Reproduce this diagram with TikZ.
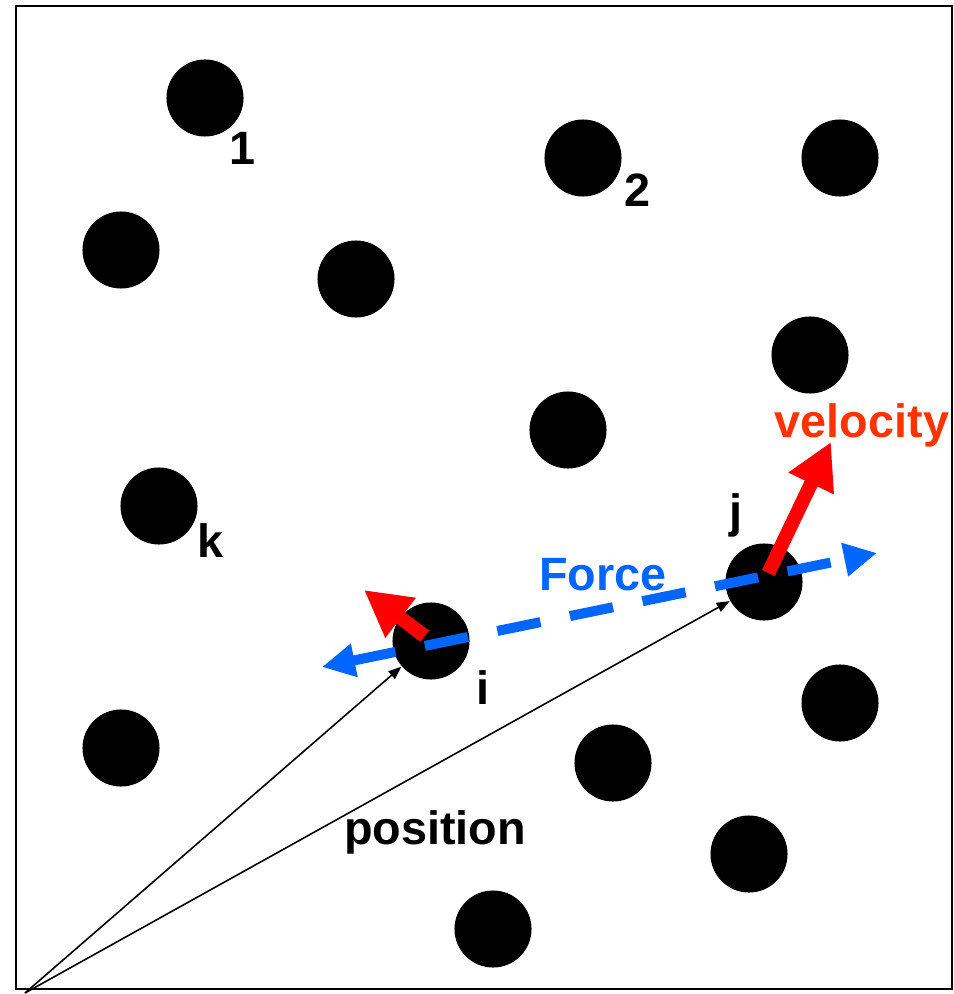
\documentclass[tikz,border=0pt]{standalone}
\usepackage{fontspec}
\setmainfont{Liberation Sans}
\usetikzlibrary{arrows.meta}

\definecolor{forceblue}{RGB}{0,102,255}
\definecolor{velred}{RGB}{255,0,0}
\definecolor{veltext}{RGB}{255,51,0}

\begin{document}
\begin{tikzpicture}[
    x=0.01cm, y=-0.01cm,
    every node/.style={font=\fontsize{13.3}{16}\selectfont\bfseries},
    particle/.style={circle, fill=black, minimum size=0.77cm, inner sep=0pt},
    tag/.style={inner sep=0pt},
    posarrow/.style={-{Triangle[length=0.13cm, width=0.1cm]}, line width=0.45pt},
    forcearrow/.style={{Triangle[length=0.33cm, width=0.32cm]}-{Triangle[length=0.33cm, width=0.32cm]}, forceblue, line width=0.1cm, dash pattern=on 0.44cm off 0.3cm},
    velarrow/.style={-{Triangle[length=0.46cm, width=0.47cm]}, velred, line width=0.14cm}
]
    \useasboundingbox (0,0) rectangle (953,994);

    % Box
    \draw[line width=0.02cm] (16,6) rectangle (952,989);

    % Particles
    \node[particle] (p1) at (205,98) {};
    \node[particle] (p2) at (583,158) {};
    \node[particle] (p3) at (840,158) {};
    \node[particle] (p4) at (121,250) {};
    \node[particle] (p5) at (356,279) {};
    \node[particle] (p6) at (810,355) {};
    \node[particle] (p7) at (568,430) {};
    \node[particle] (pk) at (159,506) {};
    \node[particle] (pj) at (764,582) {};
    \node[particle] (pi) at (431,641) {};
    \node[particle] (p8) at (840,703) {};
    \node[particle] (p9) at (121,748) {};
    \node[particle] (p10) at (613,763) {};
    \node[particle] (p11) at (749,854) {};
    \node[particle] (p12) at (493,929) {};

    % Labels
    \node[tag] (l1) at (243,148) {1};
    \node[tag] (l2) at (637,190) {2};
    \node[tag] (lk) at (211,541) {k};
    \node[tag] (lj) at (736,515) {j};
    \node[tag] (li) at (483,688) {i};

    % Position vectors
    \coordinate (origin) at (25,993);
    \draw[posarrow] (origin) -- (pi);
    \draw[posarrow] (origin) -- (pj);
    \node[tag] (postxt) at (435,832) {position};

    % Force between i and j
    \coordinate (fleft) at (322,667);
    \coordinate (fright) at (877,553);
    \draw[forcearrow] (fleft) -- (fright);
    \node[tag, text=forceblue] (forcetxt) at (603,575) {Force};

    % Velocities
    \coordinate (vi) at (364,590);
    \coordinate (vj) at (831,442);
    \draw[velarrow, shorten <=0.08cm] (pi.center) -- (vi);
    \draw[velarrow, shorten <=0.1cm] (pj.center) -- (vj);
    \node[tag, text=veltext] (veltxt) at (862,425) {velocity};

\end{tikzpicture}
\end{document}
